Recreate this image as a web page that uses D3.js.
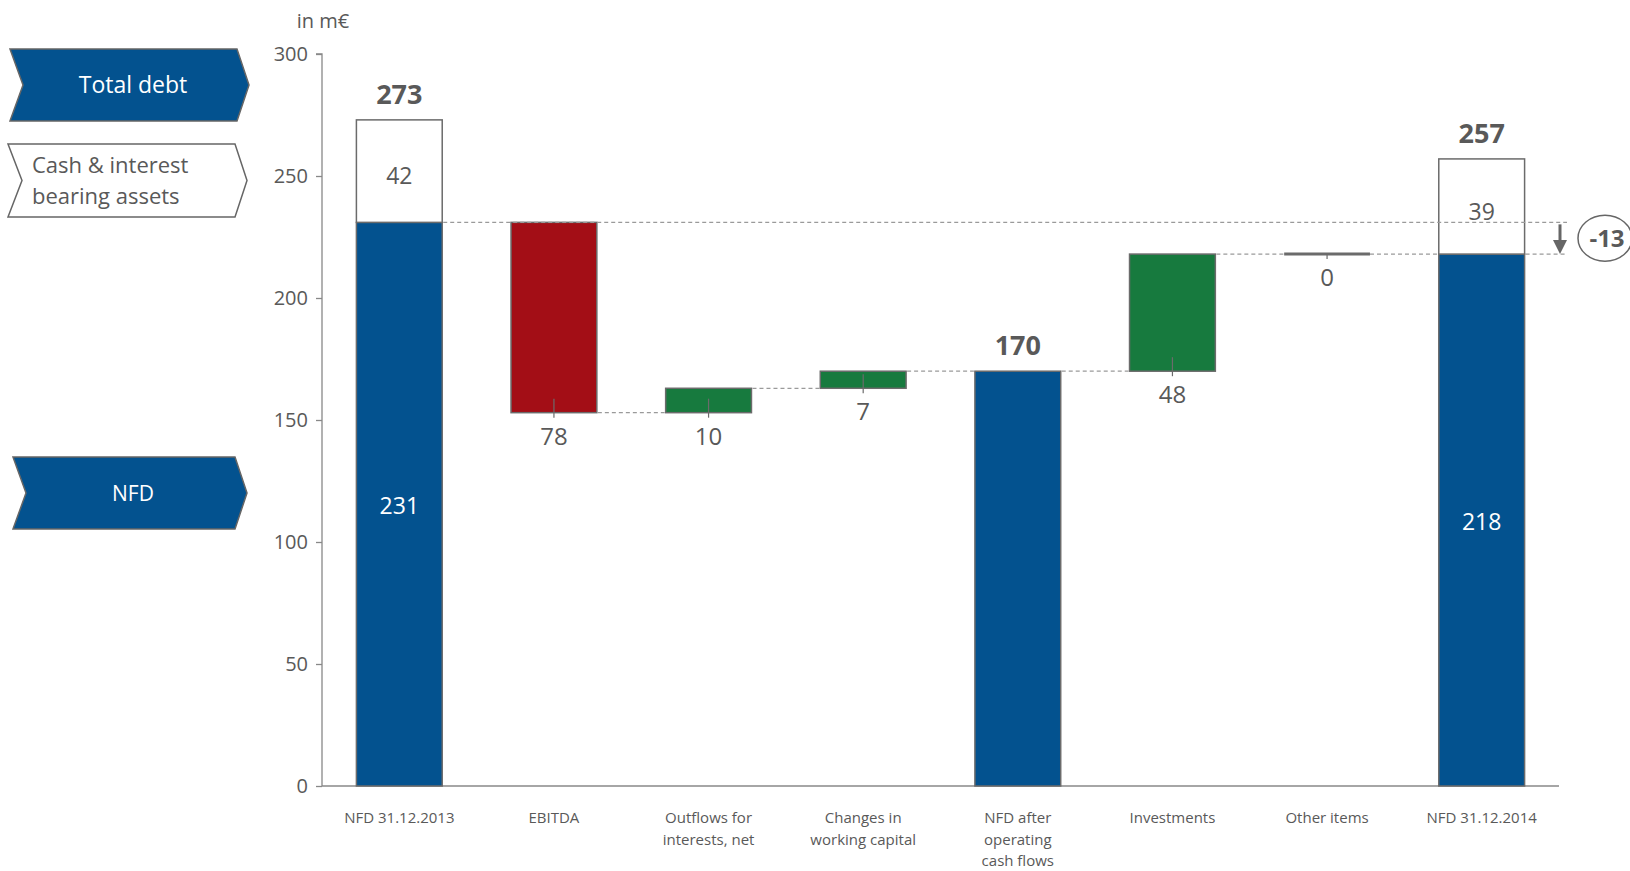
<!DOCTYPE html>
<html><head><meta charset="utf-8">
<script src="https://cdn.jsdelivr.net/npm/d3@7"></script>
<style>
html,body{margin:0;padding:0;background:#fff;}
svg text{font-family:"Open Sans","Noto Sans",sans-serif;}
</style></head>
<body>
<svg id="chart" width="1630" height="871"></svg>
<script>
// ---- data ----
const categories = ["NFD 31.12.2013","EBITDA","Outflows for interests, net","Changes in working capital","NFD after operating cash flows","Investments","Other items","NFD 31.12.2014"];
const categoryLines = [["NFD 31.12.2013"],["EBITDA"],["Outflows for","interests, net"],["Changes in","working capital"],["NFD after","operating","cash flows"],["Investments"],["Other items"],["NFD 31.12.2014"]];
const nfdTotals = [231, null, null, null, 170, null, null, 218];
const changes   = [null, -78, 10, 7, null, 48, 0, null];
const cashValues = [42, null, null, null, null, null, null, 39];
const netChange = -13;
const yTicks = [0, 50, 100, 150, 200, 250, 300];
const unitLabel = "in m€";
const legendLabels = ["Total debt", ["Cash & interest","bearing assets"], "NFD"];

// ---- layout ----
const svg = d3.select("#chart");
const gray = "#595959", strokeGray = "#6b6b6b";
const blue = "#03528f", red = "#a30e16", green = "#177a3e";
const y = d3.scaleLinear().domain([0, 300]).range([786, 54]);
const x = d3.scaleBand().domain(categories).range([322, 1559]).paddingInner(0.445).paddingOuter(0.2225);
const bw = x.bandwidth();

// compute waterfall
let running = 0;
const bars = categories.map((c, i) => {
  if (nfdTotals[i] !== null) {
    running = nfdTotals[i];
    return {c, i, type: "total", start: 0, end: running, cash: cashValues[i]};
  }
  const s = running; running = s + changes[i];
  return {c, i, type: changes[i] < 0 ? "dec" : (changes[i] > 0 ? "inc" : "zero"), start: s, end: running, delta: changes[i]};
});

// axes
const yAxis = d3.axisLeft(y).tickValues(yTicks).tickSize(6).tickPadding(8);
const gy = svg.append("g").attr("transform", "translate(322,0)").call(yAxis);
gy.select(".domain").attr("stroke", "#888").attr("stroke-width", 1.3).attr("d", `M-6,${y(300)}H0V${y(0)}`);
gy.selectAll(".tick line").attr("stroke", "#888").attr("stroke-width", 1.3);
gy.selectAll(".tick text").attr("fill", gray).style("font-size", "20px");

svg.append("line").attr("x1", 322).attr("x2", 1559).attr("y1", y(0)).attr("y2", y(0)).attr("stroke", "#888").attr("stroke-width", 1.3);

svg.append("text").attr("x", 323).attr("y", 28).attr("text-anchor", "middle").attr("fill", gray).style("font-size", "20px").text(unitLabel);

// category labels
categoryLines.forEach((lines, i) => {
  const t = svg.append("text").attr("x", x(categories[i]) + bw / 2).attr("y", 823).attr("text-anchor", "middle").attr("fill", gray).style("font-size", "15px");
  lines.forEach((l, j) => t.append("tspan").attr("x", x(categories[i]) + bw / 2).attr("dy", j === 0 ? 0 : 21.5).text(l));
});

// bars
bars.forEach(b => {
  const x0 = x(b.c);
  if (b.type === "total") {
    svg.append("rect").attr("x", x0).attr("y", y(b.end)).attr("width", bw).attr("height", y(0) - y(b.end))
      .attr("fill", blue).attr("stroke", strokeGray).attr("stroke-width", 1.5);
    if (b.cash) {
      svg.append("rect").attr("x", x0).attr("y", y(b.end + b.cash)).attr("width", bw).attr("height", y(b.end) - y(b.end + b.cash))
        .attr("fill", "#fff").attr("stroke", strokeGray).attr("stroke-width", 1.5);
    }
  } else if (b.type === "zero") {
    svg.append("line").attr("x1", x0).attr("x2", x0 + bw).attr("y1", y(b.end)).attr("y2", y(b.end)).attr("stroke", strokeGray).attr("stroke-width", 3);
  } else {
    const top = Math.max(b.start, b.end), bot = Math.min(b.start, b.end);
    svg.append("rect").attr("x", x0).attr("y", y(top)).attr("width", bw).attr("height", y(bot) - y(top))
      .attr("fill", b.type === "dec" ? red : green).attr("stroke", strokeGray).attr("stroke-width", 1.5);
  }
});

// dashed connectors
const dash = (x1, x2, yy) => svg.append("line").attr("x1", x1).attr("x2", x2).attr("y1", y(yy)).attr("y2", y(yy))
  .attr("stroke", "#9a9a9a").attr("stroke-width", 1.3).attr("stroke-dasharray", "4,3");
const refRight = 1567;
dash(x(categories[0]) + bw + 1, refRight, bars[0].end);
for (let i = 1; i <= 4; i++) dash(x(categories[i]) + bw + 1, x(categories[i + 1]) - 1, bars[i].end);
dash(x(categories[5]) + bw + 1, x(categories[6]), bars[5].end);
dash(x(categories[6]) + bw, x(categories[7]), bars[6].end);
dash(x(categories[7]) + bw + 1, refRight, bars[7].end);

// labels
bars.forEach(b => {
  const cx = x(b.c) + bw / 2;
  if (b.type === "total") {
    const top = b.end + (b.cash || 0);
    svg.append("text").attr("x", cx).attr("y", y(top) - 16).attr("text-anchor", "middle").attr("fill", gray)
      .style("font-size", "27px").style("font-weight", "bold").text(top);
    if (b.cash) {
      svg.append("text").attr("x", cx).attr("y", (y(0) + y(b.end)) / 2 + 10).attr("text-anchor", "middle").attr("fill", "#fff")
        .style("font-size", "23px").text(b.end);
      svg.append("text").attr("x", cx).attr("y", (y(b.end) + y(top)) / 2 + 13).attr("text-anchor", "middle").attr("fill", gray)
        .style("font-size", "23px").text(b.cash);
    }
  } else {
    const bot = y(Math.min(b.start, b.end));
    const tickTop = b.type === "zero" ? bot : bot - 14;
    svg.append("line").attr("x1", cx).attr("x2", cx).attr("y1", tickTop).attr("y2", bot + 5).attr("stroke", strokeGray).attr("stroke-width", 1.2);
    svg.append("text").attr("x", cx).attr("y", bot + 32).attr("text-anchor", "middle").attr("fill", gray)
      .style("font-size", "24px").text(Math.abs(b.delta));
  }
});

// net change arrow
const ax = 1560;
svg.append("line").attr("x1", ax).attr("x2", ax).attr("y1", y(bars[0].end) + 2).attr("y2", y(bars[7].end) - 12).attr("stroke", "#666").attr("stroke-width", 3);
svg.append("path").attr("d", `M${ax - 7},${y(bars[7].end) - 14}L${ax + 7},${y(bars[7].end) - 14}L${ax},${y(bars[7].end)}Z`).attr("fill", "#666");
const ey = (y(bars[0].end) + y(bars[7].end)) / 2;
svg.append("ellipse").attr("cx", 1605).attr("cy", ey).attr("rx", 27).attr("ry", 23).attr("fill", "#fff").attr("stroke", "#666").attr("stroke-width", 1.5);
svg.append("text").attr("x", 1607).attr("y", ey + 9).attr("text-anchor", "middle").attr("fill", gray).style("font-size", "24px").style("font-weight", "bold").text(netChange);

// legend chevrons
const chevron = (x0, x1, notch, y0, y1) => {
  const ym = (y0 + y1) / 2;
  return `M${x0},${y0}L${x1},${y0}L${x1 + 12},${ym}L${x1},${y1}L${x0},${y1}L${x0 + notch},${ym}Z`;
};
svg.append("path").attr("d", chevron(10, 237, 13, 49, 121)).attr("fill", blue).attr("stroke", "#666").attr("stroke-width", 1.5);
svg.append("text").attr("x", 133).attr("y", 93).attr("text-anchor", "middle").attr("fill", "#fff").style("font-size", "23px").text(legendLabels[0]);
svg.append("path").attr("d", chevron(8, 235, 14, 144, 217)).attr("fill", "#fff").attr("stroke", "#666").attr("stroke-width", 1.5);
const lt = svg.append("text").attr("x", 32).attr("y", 173).attr("fill", gray).style("font-size", "22px");
legendLabels[1].forEach((l, j) => lt.append("tspan").attr("x", 32).attr("dy", j === 0 ? 0 : 31).text(l));
svg.append("path").attr("d", chevron(13, 235, 13, 457, 529)).attr("fill", blue).attr("stroke", "#666").attr("stroke-width", 1.5);
svg.append("text").attr("x", 133).attr("y", 501).attr("text-anchor", "middle").attr("fill", "#fff").style("font-size", "21px").text(legendLabels[2]);
</script>
</body></html>
